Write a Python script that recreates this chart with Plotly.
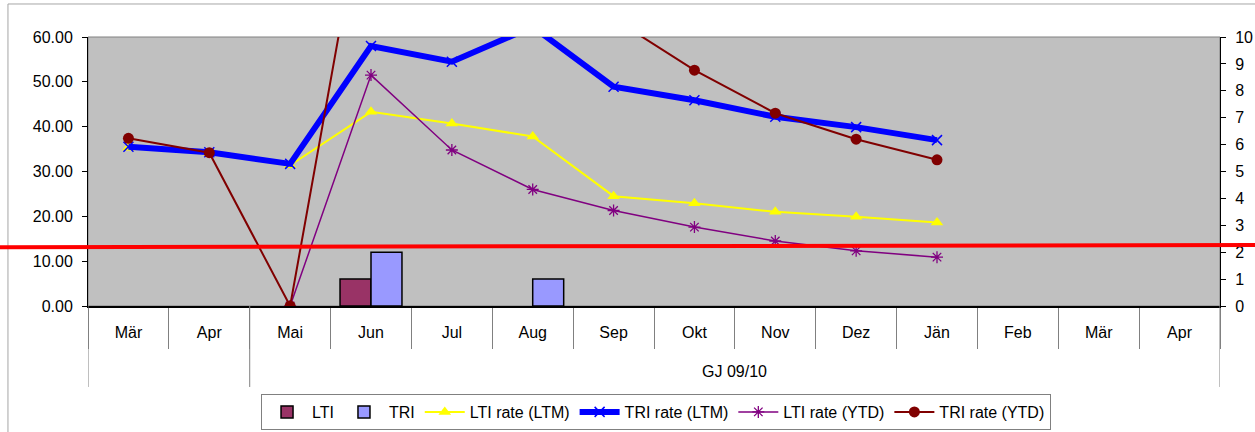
import plotly.graph_objects as go

# Monthly safety KPIs, fiscal year GJ 09/10
months = ["Mär", "Apr", "Mai", "Jun", "Jul", "Aug", "Sep", "Okt", "Nov", "Dez", "Jän", "Feb", "Mär", "Apr"]
group_label = "GJ 09/10"
group_start = 2  # index of first month belonging to the fiscal year

# Incident counts (right axis)
lti_count = [None, None, None, 1, None, None, None, None, None, None, None, None, None, None]
tri_count = [None, None, None, 2, None, 1, None, None, None, None, None, None, None, None]

# Rates (left axis)
lti_rate_ltm = [35.3, 34.2, 31.4, 43.3, 40.7, 37.8, 24.5, 22.9, 21.0, 19.9, 18.6, None, None, None]
tri_rate_ltm = [35.5, 34.3, 31.7, 58.0, 54.5, 62.3, 48.9, 45.9, 42.2, 39.9, 37.0, None, None, None]
lti_rate_ytd = [None, None, 0.0, 51.5, 34.8, 26.0, 21.3, 17.6, 14.5, 12.3, 10.9, None, None, None]
tri_rate_ytd = [37.4, 34.2, 0.0, 100.5, 68.0, 78.0, 64.1, 52.6, 43.0, 37.2, 32.6, None, None, None]

# Target line (left-axis value at the left and right end)
target_line = [13.1, 13.6]

left_range = [0, 60]
right_range = [0, 10]

FONT = "Liberation Sans, Arial, sans-serif"
GRAY = "#808080"

x = list(range(len(months)))

fig = go.Figure()

fig.add_trace(go.Bar(
    x=x, y=lti_count, name="LTI", yaxis="y2",
    marker=dict(color="#993366", line=dict(color="black", width=1.5)),
))
fig.add_trace(go.Bar(
    x=x, y=tri_count, name="TRI", yaxis="y2",
    marker=dict(color="#9999FF", line=dict(color="black", width=1.5)),
))
fig.add_trace(go.Scatter(
    x=x, y=lti_rate_ltm, name="LTI rate (LTM)", mode="lines+markers",
    line=dict(color="#FFFF00", width=2),
    marker=dict(symbol="triangle-up", size=11, color="#FFFF00"),
))
fig.add_trace(go.Scatter(
    x=x, y=tri_rate_ltm, name="TRI rate (LTM)", mode="lines+markers",
    line=dict(color="#0000FF", width=6),
    marker=dict(symbol="x-thin-open", size=10, color="#0000FF", line=dict(width=1.5)),
))
fig.add_trace(go.Scatter(
    x=x, y=lti_rate_ytd, name="LTI rate (YTD)", mode="lines+markers",
    line=dict(color="#800080", width=1.5),
    marker=dict(symbol="asterisk-open", size=10, color="#800080", line=dict(width=1.3)),
))
fig.add_trace(go.Scatter(
    x=x, y=tri_rate_ytd, name="TRI rate (YTD)", mode="lines+markers",
    line=dict(color="#800000", width=2),
    marker=dict(symbol="circle", size=11, color="#800000"),
))

n = len(months)
boundaries = [i - 0.5 for i in range(n + 1)]

shapes = [
    # outer chart frame
    dict(type="rect", xref="paper", yref="paper", x0=-0.0707, x1=1.3, y0=-0.8, y1=1.1227,
         line=dict(color="#A6A6A6", width=1), layer="below"),
    # plot-area frame
    dict(type="rect", xref="paper", yref="paper", x0=0, x1=1, y0=0, y1=1,
         line=dict(color=GRAY, width=1), layer="below"),
    # target line
    dict(type="line", xref="paper", yref="paper", x0=-0.078, x1=1.032,
         y0=target_line[0] / left_range[1], y1=target_line[1] / left_range[1],
         line=dict(color="#FF0000", width=4), layer="above"),
]
# group dividers below the month labels
for b in (boundaries[0], boundaries[group_start], boundaries[-1]):
    shapes.append(dict(type="line", xref="x", yref="paper", x0=b, x1=b, y0=0, y1=-0.301,
                       line=dict(color=GRAY, width=1)))

fig.update_layout(
    width=1255, height=432,
    margin=dict(l=88, r=35, t=37, b=126),
    paper_bgcolor="white",
    plot_bgcolor="#C0C0C0",
    font=dict(family=FONT, size=16, color="black"),
    barmode="group", bargap=0.234, bargroupgap=0,
    showlegend=True,
    legend=dict(
        orientation="h", x=0.5018, xanchor="center",
        yref="container", y=0.088, yanchor="top",
        bordercolor=GRAY, borderwidth=1, bgcolor="white",
        font=dict(family=FONT, size=16), traceorder="normal",
        itemwidth=40, tracegroupgap=0,
    ),
    xaxis=dict(
        range=[-0.5, n - 0.5], tickvals=x, ticktext=months,
        showgrid=False, zeroline=False, showline=True, linecolor="black", linewidth=1.5,
        ticks="", ticklabelstandoff=11, automargin=False,
        minor=dict(tickvals=boundaries, ticks="outside", ticklen=41, tickcolor=GRAY, tickwidth=1),
    ),
    yaxis=dict(
        range=left_range, dtick=10, tickformat=".2f", automargin=False,
        showgrid=False, zeroline=False, showline=True, linecolor="black", linewidth=1,
        ticks="outside", ticklen=5, tickcolor="black", ticklabelstandoff=6,
    ),
    yaxis2=dict(
        range=right_range, dtick=1, overlaying="y", side="right", automargin=False,
        showgrid=False, zeroline=False, showline=True, linecolor="black", linewidth=1,
        ticks="outside", ticklen=5, tickcolor="black", ticklabelstandoff=6,
    ),
    shapes=shapes,
    annotations=[dict(
        text=group_label, xref="x", yref="paper",
        x=(group_start + n - 1) / 2, y=-0.245, yanchor="middle", showarrow=False,
        font=dict(family=FONT, size=16),
    )],
)

fig.write_html("out.html")
